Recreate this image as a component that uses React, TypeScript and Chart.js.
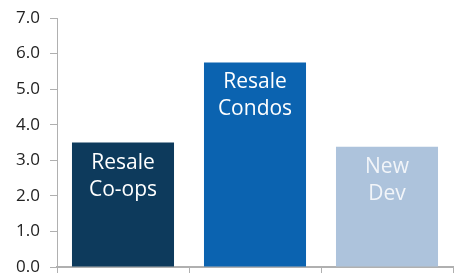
import React, { useEffect, useRef } from "react";
import { Chart, registerables } from "chart.js";

Chart.register(...registerables);

const categories = ["Resale Co-ops", "Resale Condos", "New Dev"];
const barLabels = [["Resale", "Co-ops"], ["Resale", "Condos"], ["New", "Dev"]];
const values = [3.5, 5.75, 3.38];
const barColors = ["#0d3a5c", "#0b63b0", "#adc3dc"];
const labelColors = ["#ffffff", "#ffffff", "#f2f5f9"];
const yMin = 0;
const yMax = 7;

const labelPlugin = {
  id: "barLabels",
  afterDatasetsDraw(chart: any) {
    const ctx = chart.ctx;
    const meta = chart.getDatasetMeta(0);
    ctx.save();
    ctx.font = "21px 'Open Sans'";
    ctx.textAlign = "center";
    ctx.textBaseline = "alphabetic";
    meta.data.forEach((bar: any, i: number) => {
      ctx.fillStyle = labelColors[i];
      const lines = barLabels[i];
      lines.forEach((ln: string, j: number) => {
        ctx.fillText(ln, bar.x, bar.y + 26 + j * 27);
      });
    });
    ctx.restore();
  },
};

export default function App() {
  const ref = useRef<HTMLCanvasElement>(null);
  useEffect(() => {
    document.body.style.margin = "0";
    const chart = new Chart(ref.current!, {
      type: "bar",
      data: {
        labels: categories,
        datasets: [
          {
            data: values,
            backgroundColor: barColors,
            barPercentage: 0.773,
            categoryPercentage: 1,
          },
        ],
      },
      options: {
        animation: false,
        responsive: false,
        maintainAspectRatio: false,
        layout: { padding: { top: 18, right: 5, left: 0, bottom: 0 } },
        plugins: { legend: { display: false }, tooltip: { enabled: false } },
        scales: {
          x: {
            offset: true,
            afterFit: (s: any) => {
              s.height = 6;
              s.paddingLeft = 0;
              s.paddingRight = 0;
            },
            grid: {
              offset: true,
              drawOnChartArea: false,
              drawTicks: true,
              tickLength: 6,
              color: "#b0b0b0",
              lineWidth: 1,
            },
            border: { display: true, color: "#b0b0b0", width: 2 },
            ticks: { display: false },
          },
          y: {
            min: yMin,
            max: yMax,
            afterFit: (s: any) => {
              s.width = 57;
              s.paddingTop = 0;
              s.paddingBottom = 0;
            },
            ticks: {
              stepSize: 1,
              padding: 10,
              color: "#222222",
              font: { family: "'Open Sans'", size: 17 },
              callback: (v: any) => Number(v).toFixed(1),
            },
            grid: {
              drawOnChartArea: false,
              drawTicks: true,
              tickLength: 7,
              color: "#b0b0b0",
            },
            border: { display: true, color: "#b0b0b0", width: 1 },
          },
        },
      },
      plugins: [labelPlugin],
    });
    return () => chart.destroy();
  }, []);
  return (
    <div style={{ width: 458, height: 273 }}>
      <canvas ref={ref} width={458} height={273} style={{ width: 458, height: 273 }} />
    </div>
  );
}
